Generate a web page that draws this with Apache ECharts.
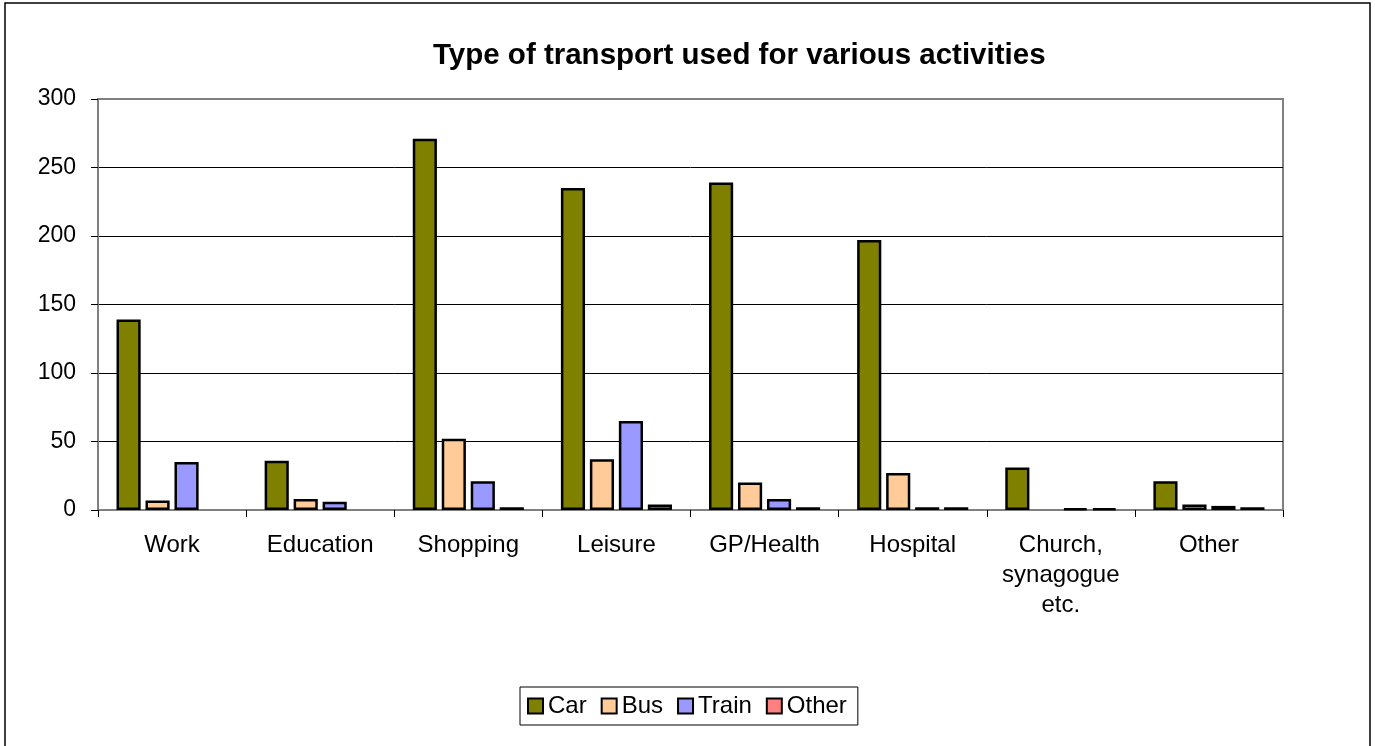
<!DOCTYPE html>
<html>
<head>
<meta charset="utf-8">
<title>Type of transport used for various activities</title>
<script src="https://cdn.jsdelivr.net/npm/echarts@6/dist/echarts.min.js"></script>
<style>
  html, body { margin: 0; padding: 0; background: #fff; }
  #chart { width: 1375px; height: 746px; }
</style>
</head>
<body>
<div id="chart"></div>
<script>
// activities on the x axis
var categories = ["Work", "Education", "Shopping", "Leisure", "GP/Health", "Hospital", "Church,\nsynagogue\netc.", "Other"];
// values
var car = [139, 36, 271, 235, 239, 197, 31, 21];
var bus = [7, 8, 52, 37, 20, 27, 0, 4];
var train = [35, 6, 21, 65, 8, 2, 1, 3];
var other = [0, 0, 2, 4, 2, 2, 1, 2];

var yTicks = [0, 50, 100, 150, 200, 250, 300];

var font = "'Liberation Sans', Arial, sans-serif";

var chart = echarts.init(document.getElementById("chart"));

function bar(name, values, color) {
  return {
    name: name,
    type: "bar",
    // excel draws nothing for an empty value
    data: values.map(function (v) { return v === 0 ? "-" : v; }),
    barGap: "20%",
    barCategoryGap: "25%",
    itemStyle: {
      color: color,
      borderColor: "#000",
      borderWidth: 2.5
    },
    emphasis: { disabled: true }
  };
}

// gridlines black, but the top one is the grey plot frame
var splitColors = yTicks.map(function (t, i) {
  return i === yTicks.length - 1 ? "#808080" : "#000";
});

chart.setOption({
  animation: false,
  backgroundColor: "#fff",
  textStyle: { fontFamily: font },
  title: {
    text: "Type of transport used for various activities",
    left: 433,
    top: 41,
    padding: 0,
    textStyle: {
      fontFamily: font,
      fontSize: 29.5,
      fontWeight: "bold",
      color: "#000"
    }
  },
  // outer frame of the chart
  graphic: [{
    type: "rect",
    shape: { x: 5, y: 3, width: 1365, height: 760 },
    style: { fill: "none", stroke: "#000", lineWidth: 1.5 },
    silent: true
  }],
  legend: {
    bottom: 21,
    left: 520,
    padding: [7, 11, 7, 7],
    borderColor: "#000",
    borderWidth: 1,
    itemWidth: 15,
    itemHeight: 15,
    itemGap: 14,
    icon: "rect",
    textStyle: { fontFamily: font, fontSize: 24, color: "#000" },
    data: ["Car", "Bus", "Train", "Other"]
  },
  grid: {
    left: 98,
    right: 92,
    top: 99,
    bottom: 236,
    show: true,
    borderColor: "#808080",
    borderWidth: 2,
    containLabel: false
  },
  xAxis: {
    type: "category",
    data: categories,
    axisLine: { lineStyle: { color: "#808080", width: 2 } },
    axisTick: { show: true, length: 7, lineStyle: { color: "#000" } },
    axisLabel: {
      interval: 0,
      margin: 20,
      fontFamily: font,
      fontSize: 24,
      color: "#000",
      lineHeight: 30
    }
  },
  yAxis: {
    type: "value",
    min: 0,
    max: yTicks[yTicks.length - 1],
    interval: 50,
    axisLine: { show: true, lineStyle: { color: "#808080", width: 2 } },
    axisTick: { show: true, length: 7, lineStyle: { color: "#000" } },
    axisLabel: {
      margin: 22,
      fontFamily: font,
      fontSize: 23,
      color: "#000"
    },
    splitLine: { lineStyle: { color: splitColors, width: 1 } }
  },
  series: [
    bar("Car", car, "#808000"),
    bar("Bus", bus, "#FFCC99"),
    bar("Train", train, "#9999FF"),
    bar("Other", other, "#FF8080")
  ]
});
</script>
</body>
</html>
